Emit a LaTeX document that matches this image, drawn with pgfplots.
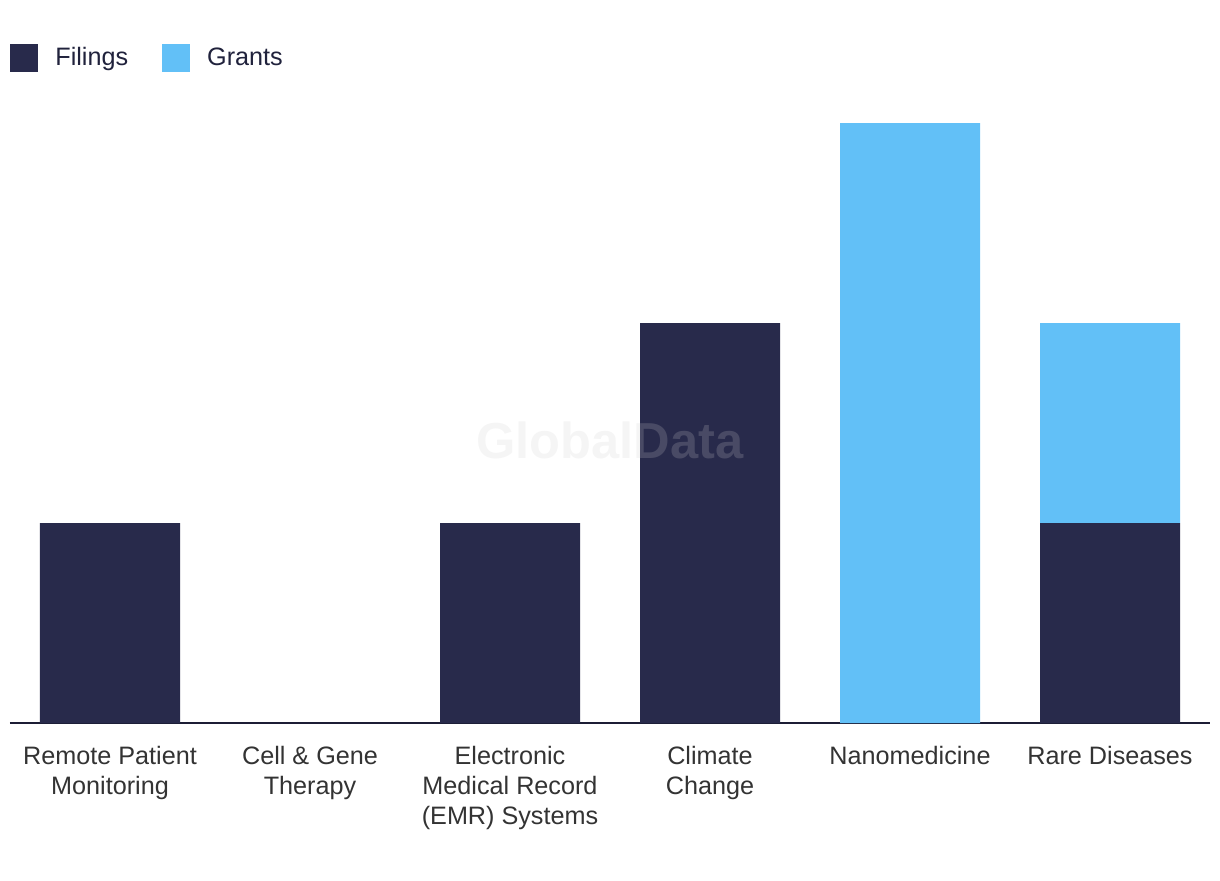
\documentclass[border=0pt]{standalone}
\usepackage{fontspec}
\setmainfont{Liberation Sans}
\usepackage{pgfplots}
\pgfplotsset{compat=1.18}
\definecolor{navy}{HTML}{282A4B}
\definecolor{sky}{HTML}{62C0F7}
\definecolor{lbl}{HTML}{333333}
\definecolor{wm}{RGB}{205,205,205}
\begin{document}
\begin{tikzpicture}
\path[use as bounding box] (-5pt,-78.5pt) rectangle (605pt,361.5pt);
\begin{axis}[at={(0,0)}, anchor=south west, scale only axis,
 width=600pt, height=300pt,
 xmin=-0.5, xmax=5.5, ymin=0, ymax=3,
 ybar stacked, bar width=70pt,
 axis x line=bottom, axis y line=none,
 x axis line style={-, draw=navy!70!black, line width=1pt},
 xtick={0,1,2,3,4,5},
 xticklabels={{Remote Patient\\Monitoring},{Cell \& Gene\\Therapy},{Electronic\\Medical Record\\(EMR) Systems},{Climate\\Change},{Nanomedicine},{Rare Diseases}},
 major tick length=0pt,
 xticklabel style={align=center, font=\fontsize{12.6}{15}\selectfont, text=lbl, anchor=north, yshift=-8pt},
 clip=false,
 legend columns=2,
 legend image code/.code={\fill[#1] (0pt,-7pt) rectangle (14pt,7pt);},
 legend style={at={(0,1.108)}, anchor=west, draw=none, inner sep=0pt,
   font=\fontsize{12.6}{14}\selectfont, text=navy!80!black,
   /tikz/every odd column/.append style={column sep=6.5pt},
   /tikz/every even column/.append style={column sep=15pt}},
]
\addplot[fill=navy, draw=none] coordinates {(0,1) (1,0) (2,1) (3,2) (4,0) (5,1)};
\addlegendentry{Filings}
\addplot[fill=sky, draw=none] coordinates {(0,0) (1,0) (2,0) (3,0) (4,3) (5,1)};
\addlegendentry{Grants}
\coordinate (wmpos) at (axis cs:2.5,1.415);
\end{axis}
\node[text=wm, opacity=0.2, font=\fontsize{25.3}{25.3}\selectfont\bfseries] at (wmpos) {GlobalData};
\end{tikzpicture}
\end{document}
